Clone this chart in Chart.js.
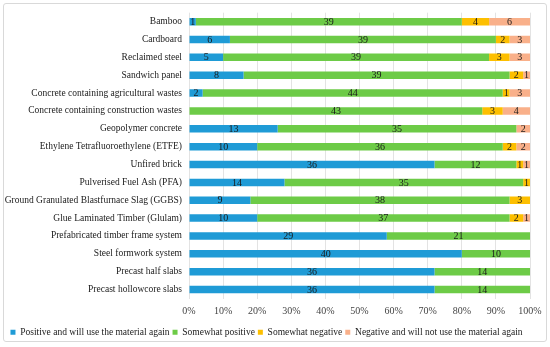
<!DOCTYPE html>
<html>
<head>
<meta charset="utf-8">
<script src="https://cdn.jsdelivr.net/npm/chart.js@4/dist/chart.umd.min.js"></script>
<style>
    html, body { margin: 0; padding: 0; background: #fff; }
    #wrap { position: relative; width: 550px; height: 347px; }
    #frame {
        position: absolute; left: 3px; top: 3px; width: 542px; height: 337px;
        border: 1px solid #d9d9d9; border-radius: 3px; pointer-events: none;
    }
    canvas { position: absolute; left: 0; top: 0; }
</style>
</head>
<body>
<div id="wrap">
    <canvas id="surveyChart" width="550" height="347"></canvas>
    <div id="frame"></div>
</div>
<script>
// Survey responses per material (50 respondents each)
const materials = [
    'Bamboo',
    'Cardboard',
    'Reclaimed steel',
    'Sandwich panel',
    'Concrete containing agricultural wastes',
    'Concrete containing construction wastes',
    'Geopolymer concrete',
    'Ethylene Tetrafluoroethylene (ETFE)',
    'Unfired brick',
    'Pulverised Fuel Ash (PFA)',
    'Ground Granulated Blastfurnace Slag (GGBS)',
    'Glue Laminated Timber (Glulam)',
    'Prefabricated timber frame system',
    'Steel formwork system',
    'Precast half slabs',
    'Precast hollowcore slabs'
];

const positive = [1, 6, 5, 8, 2, 0, 13, 10, 36, 14, 9, 10, 29, 40, 36, 36];
const somewhatPositive = [39, 39, 39, 39, 44, 43, 35, 36, 12, 35, 38, 37, 21, 10, 14, 14];
const somewhatNegative = [4, 2, 3, 2, 1, 3, 0, 2, 1, 1, 3, 2, 0, 0, 0, 0];
const negative = [6, 3, 3, 1, 3, 4, 2, 2, 1, 0, 0, 1, 0, 0, 0, 0];

const seriesNames = [
    'Positive and will use the material again',
    'Somewhat positive',
    'Somewhat negative',
    'Negative and will not use the material again'
];
const seriesColors = ['#1f9bd6', '#6dcb47', '#fdbf00', '#f9b08a'];

const serif = "'Liberation Serif', 'DejaVu Serif', serif";

// draws the count in the middle of each segment
const valueLabels = {
    id: 'valueLabels',
    afterDatasetsDraw(chart) {
        const ctx = chart.ctx;
        ctx.save();
        ctx.font = '10px ' + serif;
        ctx.fillStyle = '#1a1a1a';
        ctx.textAlign = 'center';
        ctx.textBaseline = 'middle';
        chart.data.datasets.forEach(function(ds, i) {
            const meta = chart.getDatasetMeta(i);
            meta.data.forEach(function(bar, j) {
                const v = ds.data[j];
                if (!v) return;
                const cx = (bar.x + bar.base) / 2;
                ctx.fillText(String(v), cx, bar.y + 0.5);
            });
        });
        ctx.restore();
    }
};

function buildDatasets() {
    const values = [positive, somewhatPositive, somewhatNegative, negative];
    return values.map(function(vals, i) {
        return {
            label: seriesNames[i],
            data: vals,
            backgroundColor: seriesColors[i],
            borderWidth: 0,
            categoryPercentage: 1,
            barPercentage: 0.42
        };
    });
}

new Chart(document.getElementById('surveyChart'), {
    type: 'bar',
    data: {
        labels: materials,
        datasets: buildDatasets()
    },
    options: {
        indexAxis: 'y',
        responsive: false,
        animation: false,
        layout: {
            padding: { left: 3, right: 20, top: 12, bottom: 0 }
        },
        plugins: {
            legend: {
                position: 'bottom',
                labels: {
                    font: { family: serif, size: 9.5 },
                    color: '#1a1a1a',
                    boxWidth: 5,
                    boxHeight: 5,
                    padding: 3
                }
            },
            tooltip: { enabled: false }
        },
        scales: {
            x: {
                stacked: true,
                min: 0,
                max: 50,
                ticks: {
                    stepSize: 5,
                    padding: 7,
                    color: '#444',
                    font: { family: serif, size: 10 },
                    callback: function(v) { return (v * 2) + '%'; }
                },
                grid: {
                    color: '#e3e3e3',
                    drawTicks: false
                },
                border: { display: false }
            },
            y: {
                stacked: true,
                afterFit: function(scale) { scale.width = 186; },
                ticks: {
                    color: '#1a1a1a',
                    padding: 7,
                    font: { family: serif, size: 9.5 }
                },
                grid: { display: false, drawTicks: false },
                border: { display: false }
            }
        }
    },
    plugins: [valueLabels]
});
</script>
</body>
</html>
